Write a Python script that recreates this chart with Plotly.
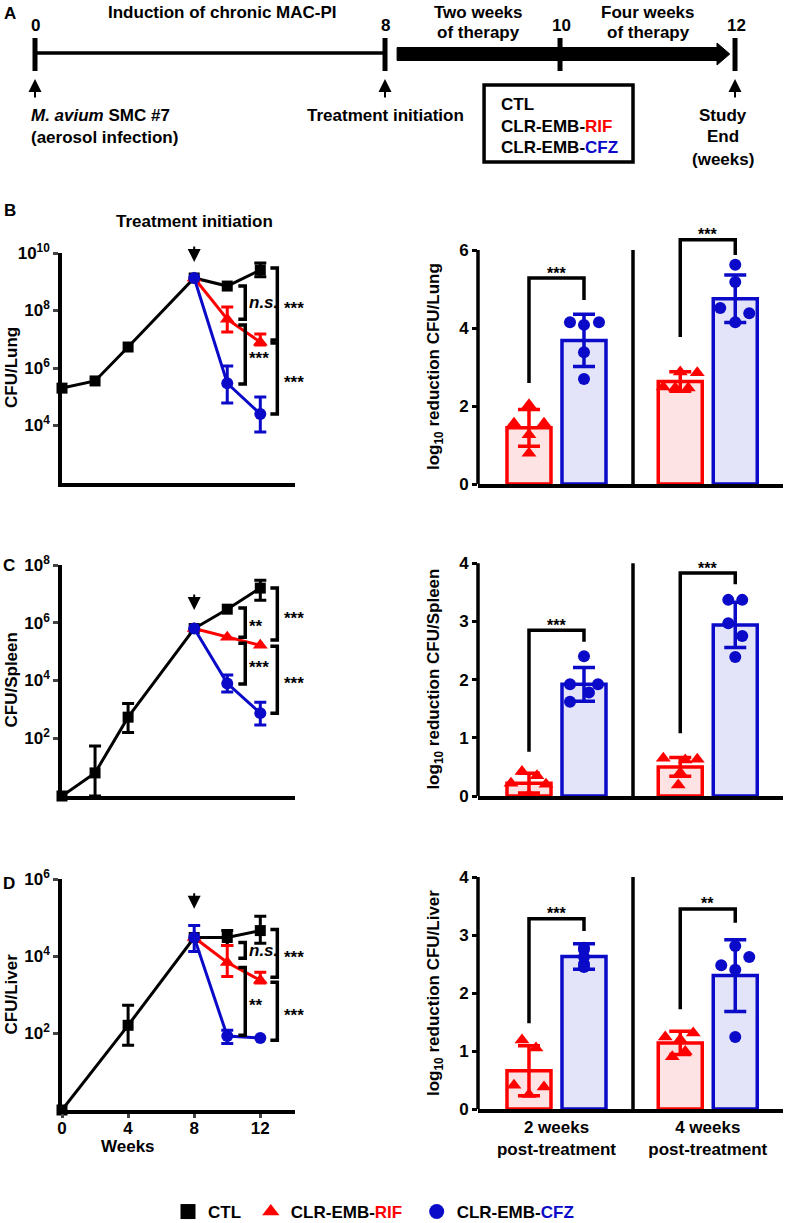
import plotly.graph_objects as go

W, H = 787, 1223
FONT = "Arial, 'Liberation Sans', Helvetica, sans-serif"
BLACK, RED, BLUE = "#000000", "#ff0000", "#0a0ac8"
RED_FILL, BLUE_FILL = "#fde3e3", "#e3e3f9"

# ---------------------------------------------------------------- data
TIMELINE_WEEKS = [0, 8, 10, 12]

WEEKS_LUNG = [0, 2, 4, 8, 10, 12]
WEEKS_SPLEEN = [0, 2, 4, 8, 10, 12]
WEEKS_LIVER = [0, 4, 8, 10, 12]
WEEKS_TX = [8, 10, 12]

# log10 CFU per organ (means), with error bar upper / lower ends (log10)
LUNG_CTL = [5.30, 5.55, 6.73, 9.13, 8.85, 9.41]
LUNG_CTL_HI = [None, None, None, None, None, 9.65]
LUNG_CTL_LO = [None, None, None, None, None, 9.17]
LUNG_RIF = [9.13, 7.70, 6.90]
LUNG_RIF_HI = [None, 8.12, 7.18]
LUNG_RIF_LO = [None, 7.25, 6.80]
LUNG_CFZ = [9.13, 5.47, 4.40]
LUNG_CFZ_HI = [None, 6.07, 4.99]
LUNG_CFZ_LO = [None, 4.78, 3.77]

SPLEEN_CTL = [0.0, 0.80, 2.73, 5.80, 6.47, 7.20]
SPLEEN_CTL_HI = [None, 1.73, 3.20, None, None, 7.47]
SPLEEN_CTL_LO = [None, 0.0, 2.20, None, None, 6.78]
SPLEEN_RIF = [5.80, 5.50, 5.22]
SPLEEN_RIF_HI = [None, None, None]
SPLEEN_RIF_LO = [None, None, None]
SPLEEN_CFZ = [5.80, 3.90, 2.87]
SPLEEN_CFZ_HI = [None, 4.19, 3.25]
SPLEEN_CFZ_LO = [None, 3.60, 2.46]

LIVER_CTL = [0.0, 2.20, 4.48, 4.48, 4.66]
LIVER_CTL_HI = [None, 2.72, None, 4.66, 5.03]
LIVER_CTL_LO = [None, 1.68, None, 4.27, 4.33]
LIVER_RIF = [4.48, 3.83, 3.37]
LIVER_RIF_HI = [None, 4.27, 3.58]
LIVER_RIF_LO = [None, 3.47, 3.30]
LIVER_CFZ = [4.48, 1.92, 1.87]
LIVER_CFZ_HI = [4.79, 2.07, None]
LIVER_CFZ_LO = [4.12, 1.73, None]

LUNG_TICK_EXP = [4, 6, 8, 10]
SPLEEN_TICK_EXP = [2, 4, 6, 8]
LIVER_TICK_EXP = [2, 4, 6]
WEEK_TICKS = [0, 4, 8, 12]

# significance brackets on the time-course panels: (label, upper log10, lower log10)
LUNG_SIG = [("<i>n.s.</i>", 8.85, 7.70), ("***", 9.48, 6.97), ("***", 7.50, 5.44), ("***", 6.87, 4.40)]
SPLEEN_SIG = [("**", 6.51, 5.50), ("***", 7.20, 5.40), ("***", 5.29, 3.88), ("***", 5.19, 2.87)]
LIVER_SIG = [("<i>n.s.</i>", 4.35, 3.94), ("***", 4.69, 3.45), ("**", 3.70, 1.94), ("***", 3.32, 1.81)]

# log10 reduction panels: groups = 2 weeks, 4 weeks post-treatment
GROUPS = ["2 weeks<br>post-treatment", "4 weeks<br>post-treatment"]

LUNG_RIF_MEAN = [1.44, 2.63]
LUNG_RIF_SD = [0.47, 0.25]
LUNG_CFZ_MEAN = [3.68, 4.75]
LUNG_CFZ_SD = [0.67, 0.61]
LUNG_RIF_PTS = [[2.03, 1.56, 1.56, 1.26, 0.79], [2.87, 2.85, 2.49, 2.46, 2.46]]
LUNG_CFZ_PTS = [[4.15, 4.15, 4.08, 3.38, 2.69], [5.62, 5.18, 4.51, 4.38, 4.15]]

SPLEEN_RIF_MEAN = [0.22, 0.50]
SPLEEN_RIF_SD = [0.17, 0.16]
SPLEEN_CFZ_MEAN = [1.92, 2.94]
SPLEEN_CFZ_SD = [0.29, 0.39]
SPLEEN_RIF_PTS = [[0.42, 0.35, 0.22, 0.20, 0.02], [0.65, 0.63, 0.62, 0.40, 0.19]]
SPLEEN_CFZ_PTS = [[2.40, 1.92, 1.92, 1.78, 1.62], [3.37, 3.37, 2.97, 2.75, 2.39]]

LIVER_RIF_MEAN = [0.66, 1.14]
LIVER_RIF_SD = [0.43, 0.20]
LIVER_CFZ_MEAN = [2.63, 2.30]
LIVER_CFZ_SD = [0.22, 0.62]
LIVER_RIF_PTS = [[1.19, 1.05, 0.41, 0.38, 0.25], [1.31, 1.24, 1.20, 0.99, 0.90]]
LIVER_CFZ_PTS = [[2.78, 2.75, 2.62, 2.50, 2.45], [2.81, 2.62, 2.48, 2.40, 1.24]]

# (label, left leg bottom, top, right leg bottom)
LUNG_RED_SIG = [("***", 2.59, 5.28, 4.72), ("***", 3.77, 6.26, 5.87)]
SPLEEN_RED_SIG = [("***", 0.76, 2.85, 2.65), ("***", 1.08, 3.83, 3.64)]
LIVER_RED_SIG = [("***", 1.48, 3.28, 3.07), ("**", 1.72, 3.45, 3.21)]

LEGEND_NAMES = ["CTL", "CLR-EMB-", "CLR-EMB-"]
LEGEND_SUFFIX = ["", "RIF", "CFZ"]

# ---------------------------------------------------------------- layout / style
TIMELINE_POS = [0, 2, 3, 4]          # schematic position of each timeline week
BAR_X_RIF = [1.0, 3.75]
BAR_X_CFZ = [2.0, 4.75]
DIVIDER_X = 2.891
RIGHT_XRANGE = [0.073, 5.618]
PX_PER_UNIT = 55.0
BAR_W = 0.80
BRACKET_COLS = [(10.67, 11.09), (12.61, 13.03)]
LABEL_X = [11.2, 13.33]

JITTER = {
    "lung": {"rif": [[0, -15, 15, 0, 0], [0, 17, -17, -5, 8]],
             "cfz": [[-14, 15, 0, 0, 0], [0, 0, -15, 14, 0]]},
    "spleen": {"rif": [[-7, 8, -18, 17, 0], [-17, 17, 5, 0, -2]],
               "cfz": [[0, -14, 14, 5, -14], [-7, 7, -7, 7, 0]]},
    "liver": {"rif": [[-7, 7, -15, 15, 0], [13, -15, 0, 5, -8]],
              "cfz": [[0, 0, 0, 0, 0], [0, 14, -14, 0, 0]]},
}


def f(size=17, color=BLACK):
    return dict(family=FONT, size=size, color=color, weight="bold")


def xdom(a, b):
    return [a / W, b / W]


def ydom(top, bottom):
    return [1 - bottom / H, 1 - top / H]


def py(p):
    return 1 - p / H


fig = go.Figure()
annotations = []
shapes = []
layout_axes = {}


def paper_text(x, y, text, size=17, angle=0, xanchor="center"):
    annotations.append(dict(x=x / W, y=py(y), xref="paper", yref="paper", text=text,
                            textangle=angle, showarrow=False, xanchor=xanchor,
                            yanchor="middle", font=f(size)))


def axname(i, letter):
    return letter if i == 1 else f"{letter}{i}"


def layname(i, letter):
    return f"{letter}axis" if i == 1 else f"{letter}axis{i}"


# ---------------------------------------------------------------- time-course panels
def left_panel(i, top, bottom, yrange, tick_exp, weeks, ctl, ctl_hi, ctl_lo,
               rif, rif_hi, rif_lo, cfz, cfz_hi, cfz_lo, sig, arrow_tip, ytitle,
               show_x):
    xa, ya = axname(i, "x"), axname(i, "y")
    series = [
        (weeks, ctl, ctl_hi, ctl_lo, BLACK, "square", 11),
        (WEEKS_TX, rif, rif_hi, rif_lo, RED, "triangle-up", 13),
        (WEEKS_TX, cfz, cfz_hi, cfz_lo, BLUE, "circle", 12),
    ]
    for wk, vals, hi, lo, col, sym, sz in series:
        fig.add_trace(go.Scatter(
            x=wk, y=[10 ** v for v in vals], mode="lines+markers",
            line=dict(color=col, width=3), marker=dict(symbol=sym, size=sz, color=col),
            xaxis=xa, yaxis=ya, cliponaxis=False, showlegend=False, hoverinfo="skip"))
        idx = [k for k in range(len(vals)) if hi[k] is not None]
        if idx:
            fig.add_trace(go.Scatter(
                x=[wk[k] for k in idx], y=[10 ** vals[k] for k in idx], mode="markers",
                marker=dict(size=1, opacity=0, color=col),
                error_y=dict(type="data", symmetric=False,
                             array=[10 ** hi[k] - 10 ** vals[k] for k in idx],
                             arrayminus=[10 ** vals[k] - 10 ** lo[k] for k in idx],
                             color=col, thickness=3, width=6),
                xaxis=xa, yaxis=ya, cliponaxis=False, showlegend=False, hoverinfo="skip"))
    for n, (lab, up, dn) in enumerate(sig):
        xa0, xv = BRACKET_COLS[n % 2]
        fig.add_trace(go.Scatter(
            x=[xa0, xv, xv, xa0], y=[10 ** up, 10 ** up, 10 ** dn, 10 ** dn], mode="lines",
            line=dict(color=BLACK, width=3.5), xaxis=xa, yaxis=ya,
            showlegend=False, hoverinfo="skip"))
        annotations.append(dict(
            x=LABEL_X[n % 2], y=(up + dn) / 2, xref=xa, yref=ya, text=lab,
            showarrow=False, xanchor="left", yanchor="middle",
            yshift=0 if "n.s." in lab else -4, font=f(17)))
    annotations.append(dict(
        x=8, y=arrow_tip, xref=xa, yref=ya, text="", showarrow=True, ax=0, ay=-17,
        arrowhead=2, arrowsize=1.3, arrowwidth=2, arrowcolor=BLACK))
    paper_text(11, (top + bottom) / 2, ytitle, angle=-90)
    layout_axes[layname(i, "x")] = dict(
        domain=xdom(62, 295), range=[0, 14.1], anchor=ya, showline=True,
        linewidth=3.5, linecolor=BLACK, showgrid=False, zeroline=False,
        ticks="outside" if show_x else "", ticklen=4, tickwidth=3,
        tickvals=WEEK_TICKS, ticktext=[str(t) for t in WEEK_TICKS],
        showticklabels=show_x, tickfont=f(17), ticklabelstandoff=-4)
    layout_axes[layname(i, "y")] = dict(
        domain=ydom(top, bottom), type="log", range=yrange, anchor=xa, showline=True,
        linewidth=3.5, linecolor=BLACK, showgrid=False, zeroline=False,
        ticks="outside", ticklen=5, tickwidth=3,
        tickvals=[10 ** e for e in tick_exp],
        ticktext=[f"10<sup>{e}</sup>" for e in tick_exp], tickfont=f(17))


left_panel(1, 253, 483, [2, 10], LUNG_TICK_EXP, WEEKS_LUNG, LUNG_CTL, LUNG_CTL_HI, LUNG_CTL_LO,
           LUNG_RIF, LUNG_RIF_HI, LUNG_RIF_LO, LUNG_CFZ, LUNG_CFZ_HI, LUNG_CFZ_LO,
           LUNG_SIG, 9.69, "CFU/Lung", False)
left_panel(3, 565, 796, [0, 8], SPLEEN_TICK_EXP, WEEKS_SPLEEN, SPLEEN_CTL, SPLEEN_CTL_HI,
           SPLEEN_CTL_LO, SPLEEN_RIF, SPLEEN_RIF_HI, SPLEEN_RIF_LO, SPLEEN_CFZ, SPLEEN_CFZ_HI,
           SPLEEN_CFZ_LO, SPLEEN_SIG, 6.44, "CFU/Spleen", False)
left_panel(5, 879, 1110, [0, 6], LIVER_TICK_EXP, WEEKS_LIVER, LIVER_CTL, LIVER_CTL_HI,
           LIVER_CTL_LO, LIVER_RIF, LIVER_RIF_HI, LIVER_RIF_LO, LIVER_CFZ, LIVER_CFZ_HI,
           LIVER_CFZ_LO, LIVER_SIG, 5.23, "CFU/Liver", True)

annotations.append(dict(x=8, y=py(222), xref="x", yref="paper", text="Treatment initiation",
                        showarrow=False, yanchor="middle", font=f(17)))
annotations.append(dict(x=4, y=py(1146), xref="x5", yref="paper", text="Weeks",
                        showarrow=False, yanchor="middle", font=f(17)))


# ---------------------------------------------------------------- reduction panels
def right_panel(i, zero_px, px_unit, ytop, yticks, rif_m, rif_sd, cfz_m, cfz_sd,
                rif_pts, cfz_pts, jit, sig, ytitle, show_x):
    xa, ya = axname(i, "x"), axname(i, "y")
    top_val = yticks[-1]
    top_px = zero_px - ytop * px_unit
    for xs, m, sd, line_c, fill_c in [(BAR_X_RIF, rif_m, rif_sd, RED, RED_FILL),
                                      (BAR_X_CFZ, cfz_m, cfz_sd, BLUE, BLUE_FILL)]:
        fig.add_trace(go.Bar(
            x=xs, y=m, width=BAR_W, marker=dict(color=fill_c, line=dict(color=line_c, width=3.5)),
            error_y=dict(type="data", array=sd, color=line_c, thickness=3.5, width=11),
            xaxis=xa, yaxis=ya, showlegend=False, hoverinfo="skip"))
    for xs, pts, offs, col, sym, sz in [(BAR_X_RIF, rif_pts, jit["rif"], RED, "triangle-up", 13),
                                        (BAR_X_CFZ, cfz_pts, jit["cfz"], BLUE, "circle", 12)]:
        px_, py_ = [], []
        for g in range(2):
            for v, o in zip(pts[g], offs[g]):
                px_.append(xs[g] + o / PX_PER_UNIT)
                py_.append(v)
        fig.add_trace(go.Scatter(
            x=px_, y=py_, mode="markers", marker=dict(symbol=sym, size=sz, color=col),
            xaxis=xa, yaxis=ya, cliponaxis=False, showlegend=False, hoverinfo="skip"))
    for g, (lab, lb, tp, rb) in enumerate(sig):
        rx, cx = BAR_X_RIF[g], BAR_X_CFZ[g]
        fig.add_trace(go.Scatter(
            x=[rx, rx, cx, cx], y=[lb, tp, tp, rb], mode="lines",
            line=dict(color=BLACK, width=3.5), xaxis=xa, yaxis=ya,
            showlegend=False, hoverinfo="skip"))
        annotations.append(dict(x=(rx + cx) / 2, y=tp, xref=xa, yref=ya, text=lab,
                                showarrow=False, yanchor="middle", yshift=5, font=f(16)))
    shapes.append(dict(type="line", xref=f"{xa} domain", yref=ya, x0=0, x1=0, y0=0, y1=top_val,
                       line=dict(color=BLACK, width=3.5)))
    shapes.append(dict(type="line", xref=xa, yref=ya, x0=DIVIDER_X, x1=DIVIDER_X, y0=0,
                       y1=top_val, line=dict(color=BLACK, width=3.5)))
    paper_text(435, zero_px - top_val * px_unit / 2, ytitle, angle=-90)
    layout_axes[layname(i, "x")] = dict(
        domain=xdom(478, 783), range=RIGHT_XRANGE, anchor=ya, showline=True,
        linewidth=3.5, linecolor=BLACK, showgrid=False, zeroline=False, ticks="",
        tickvals=[(BAR_X_RIF[g] + BAR_X_CFZ[g]) / 2 for g in range(2)], ticktext=GROUPS,
        showticklabels=show_x, tickfont=f(17))
    layout_axes[layname(i, "y")] = dict(
        domain=ydom(top_px, zero_px), range=[0, ytop], anchor=xa, showline=False,
        showgrid=False, zeroline=False, ticks="outside", ticklen=5, tickwidth=3,
        tickcolor=BLACK, tickvals=yticks, ticktext=[str(t) for t in yticks], tickfont=f(17))


right_panel(2, 484, 39.0, 6.4, [0, 2, 4, 6], LUNG_RIF_MEAN, LUNG_RIF_SD, LUNG_CFZ_MEAN,
            LUNG_CFZ_SD, LUNG_RIF_PTS, LUNG_CFZ_PTS, JITTER["lung"], LUNG_RED_SIG,
            "log<sub>10</sub> reduction CFU/Lung", False)
right_panel(4, 796, 58.2, 4.1, [0, 1, 2, 3, 4], SPLEEN_RIF_MEAN, SPLEEN_RIF_SD, SPLEEN_CFZ_MEAN,
            SPLEEN_CFZ_SD, SPLEEN_RIF_PTS, SPLEEN_CFZ_PTS, JITTER["spleen"], SPLEEN_RED_SIG,
            "log<sub>10</sub> reduction CFU/Spleen", False)
right_panel(6, 1109, 58.0, 4.1, [0, 1, 2, 3, 4], LIVER_RIF_MEAN, LIVER_RIF_SD, LIVER_CFZ_MEAN,
            LIVER_CFZ_SD, LIVER_RIF_PTS, LIVER_CFZ_PTS, JITTER["liver"], LIVER_RED_SIG,
            "log<sub>10</sub> reduction CFU/Liver", True)

# ---------------------------------------------------------------- panel A (timeline)
TA = "x7"
layout_axes["xaxis7"] = dict(domain=[0, 1], range=[-0.2, 4.297], visible=False, anchor="y7")
layout_axes["yaxis7"] = dict(domain=ydom(0, 215), range=[215, 0], visible=False, anchor="x7")
p0, p8, p10, p12 = TIMELINE_POS
shapes.append(dict(type="line", xref=TA, yref="y7", x0=p0, x1=p8, y0=53, y1=53,
                   line=dict(color=BLACK, width=3.5)))
shapes.append(dict(type="path", xref=TA, yref="y7",
                   path=f"M {p8 + 0.069},47.5 L {p12 - 0.103},47.5 L {p12 - 0.103},43 "
                        f"L {p12 - 0.03},54 L {p12 - 0.103},65 L {p12 - 0.103},60.5 "
                        f"L {p8 + 0.069},60.5 Z",
                   fillcolor=BLACK, line=dict(color=BLACK, width=1)))
for p, wk in zip(TIMELINE_POS, TIMELINE_WEEKS):
    shapes.append(dict(type="line", xref=TA, yref="y7", x0=p, x1=p, y0=38, y1=71,
                       line=dict(color=BLACK, width=5)))
    annotations.append(dict(x=p + (0.01 if wk >= 10 else 0), y=25, xref=TA, yref="y7",
                            text=str(wk), showarrow=False, yanchor="middle", font=f(17)))
for p in (p0, p8, p12):
    annotations.append(dict(x=p, y=79, xref=TA, yref="y7", text="", showarrow=True, ax=0, ay=20,
                            arrowhead=2, arrowsize=1.3, arrowwidth=2, arrowcolor=BLACK))
shapes.append(dict(type="rect", xref=TA, yref="y7", x0=2.566, x1=3.417, y0=85, y1=162,
                   line=dict(color=BLACK, width=3.5)))
A_TEXT = [
    (1.07, 12, "Induction of chronic MAC-PI", "center"),
    (2.537, 12, "Two weeks", "center"), (2.537, 32, "of therapy", "center"),
    (3.503, 12, "Four weeks", "center"), (3.503, 32, "of therapy", "center"),
    (-0.034, 115, "<i>M. avium</i> SMC #7", "left"),
    (-0.034, 137, "(aerosol infection)", "left"),
    (2.0, 115, "Treatment initiation", "center"),
    (3.93, 115, "Study", "center"), (3.93, 136, "End", "center"),
    (3.93, 159, "(weeks)", "center"),
    (2.651, 104, "CTL", "left"),
    (2.651, 126, f"CLR-EMB-<span style='color:{RED}'>RIF</span>", "left"),
    (2.651, 147, f"CLR-EMB-<span style='color:{BLUE}'>CFZ</span>", "left"),
]
for x, y, t, anc in A_TEXT:
    annotations.append(dict(x=x, y=y, xref=TA, yref="y7", text=t, showarrow=False,
                            xanchor=anc, yanchor="middle", font=f(17)))

# panel letters
for lab, (x, y) in zip("ABCD", [(10, 13), (10, 210), (9, 565), (9, 883)]):
    paper_text(x, y, lab)

# ---------------------------------------------------------------- legend
LEG_STYLE = [(BLACK, "square", 1), (RED, "triangle-up", 2), (BLUE, "circle", 0)]
for base, suf, (col, sym, pad) in zip(LEGEND_NAMES, LEGEND_SUFFIX, LEG_STYLE):
    name = base + (f"<span style='color:{col}'>{suf}</span>" if suf else "") + "&nbsp;" * pad
    fig.add_trace(go.Scatter(x=[None], y=[None], mode="markers", name=name,
                             marker=dict(symbol=sym, size=15, color=col),
                             xaxis="x", yaxis="y", hoverinfo="skip"))

fig.update_layout(
    width=W, height=H, margin=dict(l=0, r=0, t=0, b=0, autoexpand=False),
    paper_bgcolor="white", plot_bgcolor="rgba(0,0,0,0)",
    font=f(17), barmode="overlay", showlegend=True,
    legend=dict(orientation="h", x=168 / W, xanchor="left", y=py(1212), yanchor="middle",
                font=f(17), bgcolor="rgba(0,0,0,0)", itemclick=False),
    annotations=annotations, shapes=shapes, **layout_axes)

fig.write_html("out.html", config={"displayModeBar": False},
               post_script="document.body.style.margin='0px';")
